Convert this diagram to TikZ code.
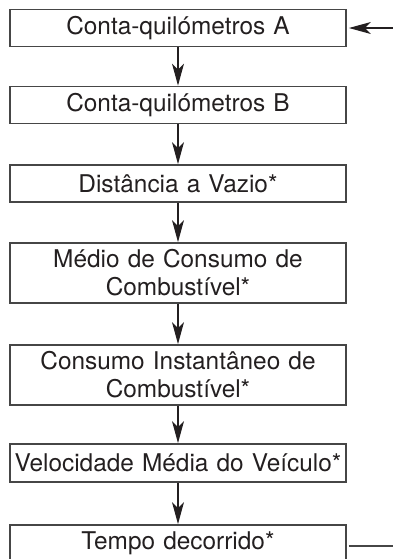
\documentclass[tikz,border=0pt]{standalone}
\usepackage{fontspec}
\setmainfont{TeX Gyre Heros}
\usepackage{xcolor}
\usepackage{tikz}
\usetikzlibrary{arrows.meta,positioning,calc}
\definecolor{framegray}{RGB}{70,70,70}
\definecolor{inkblack}{RGB}{35,31,32}

\begin{document}
\begin{tikzpicture}[
  x=0.5pt,y=-0.5pt,
  every node/.style={font=\fontsize{12.2}{14}\selectfont,text=inkblack},
  screen/.style={rectangle,draw=framegray,line width=0.9pt,
                 minimum width=168pt,minimum height=18.5pt,
                 text width=166pt,align=center,inner sep=1pt},
  screen2/.style={screen,minimum height=30pt},
  arrow/.style={-{Stealth[length=11pt,width=6pt,inset=3pt]},line width=0.6pt,inkblack},
  loopline/.style={line width=0.7pt,framegray},
]
\useasboundingbox (0,0) rectangle (393,559);

% Display screens
\node[screen]  (odoA)  at (178,28)    {Conta-quilómetros A};
\node[screen]  (odoB)  at (178,105)   {Conta-quilómetros B};
\node[screen]  (range) at (178,183.5) {Distância a Vazio*};
\node[screen2] (avgc)  at (178,273)   {Médio de Consumo de\\Combustível*};
\node[screen2] (instc) at (178,375)   {Consumo Instantâneo de\\Combustível*};
\node[screen,minimum height=19pt] (avgv) at (178,463) {Velocidade Média do Veículo*};
\node[screen]  (time)  at (178,543.5) {Tempo decorrido*};

% Arrows down the list
\draw[arrow] (odoA)  -- (odoB);
\draw[arrow] (odoB)  -- (range);
\draw[arrow] (range) -- (avgc);
\draw[arrow] (avgc)  -- (instc);
\draw[arrow] (instc) -- (avgv);
\draw[arrow] (avgv)  -- (time);

% Return to the first screen
\coordinate (backin)  at (393,28);
\coordinate (backout) at (393,546);
\draw[arrow] (backin) -- ([xshift=1pt]odoA.east);
\draw[loopline] ([xshift=1pt]time.east |- backout) -- (backout);

\end{tikzpicture}
\end{document}
